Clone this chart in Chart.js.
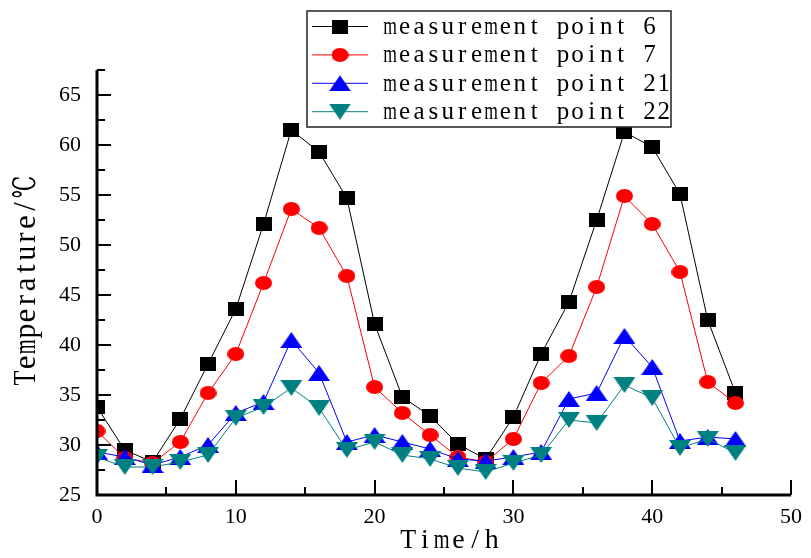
<!DOCTYPE html>
<html lang="en">
<head>
    <meta charset="UTF-8">
    <title>Temperature at measurement points</title>
    <script src="https://cdn.jsdelivr.net/npm/chart.js"></script>
    <style>
        html, body { margin: 0; padding: 0; background: #fff; }
        #wrap { width: 811px; height: 558px; }
    </style>
</head>
<body>
    <div id="wrap"><canvas id="tempChart"></canvas></div>

    <script>
        // values
        const times = [0, 2, 4, 6, 8, 10, 12, 14, 16, 18, 20, 22, 24, 26, 28, 30, 32, 34, 36, 38, 40, 42, 44, 46];
        const point6 = [33.8, 29.5, 28.3, 32.6, 38.1, 43.6, 52.1, 61.5, 59.3, 54.7, 42.1, 34.8, 32.9, 30.1, 28.6, 32.8, 39.1, 44.3, 52.5, 61.3, 59.8, 55.1, 42.5, 35.2];
        const point7 = [31.4, 28.7, 28.2, 30.3, 35.2, 39.1, 46.2, 53.6, 51.7, 46.9, 35.8, 33.2, 31.0, 28.8, 28.3, 30.6, 36.2, 38.9, 45.8, 54.9, 52.1, 47.3, 36.3, 34.2];
        const point21 = [29.3, 28.8, 28.0, 28.8, 30.0, 33.2, 34.3, 40.5, 37.2, 30.3, 31.0, 30.3, 29.6, 28.6, 28.4, 28.8, 29.3, 34.6, 35.2, 40.9, 37.8, 30.4, 30.8, 30.6];
        const point22 = [28.8, 27.8, 27.8, 28.3, 29.0, 32.7, 33.8, 35.7, 33.7, 29.5, 30.3, 29.0, 28.6, 27.7, 27.3, 28.2, 29.0, 32.5, 32.2, 36.0, 34.7, 29.7, 30.6, 29.2];
        const seriesLabels = ['measurement point 6', 'measurement point 7', 'measurement point 21', 'measurement point 22'];
        const xTicks = [0, 10, 20, 30, 40, 50];
        const yTicks = [25, 30, 35, 40, 45, 50, 55, 60, 65];

        const SERIF = '"Liberation Serif", "Times New Roman", "DejaVu Serif", serif';

        // symbols are a bit wider than tall in the original, so build them as small canvases
        function makeMarker(w, h, color, shape) {
            const c = document.createElement('canvas');
            c.width = w; c.height = h;
            const g = c.getContext('2d');
            g.fillStyle = color;
            g.beginPath();
            if (shape === 'square') {
                g.rect(0, 0, w, h);
            } else if (shape === 'circle') {
                g.ellipse(w / 2, h / 2, w / 2, h / 2, 0, 0, Math.PI * 2);
            } else if (shape === 'up') {
                g.moveTo(w / 2, 0); g.lineTo(w, h); g.lineTo(0, h);
            } else {
                g.moveTo(0, 0); g.lineTo(w, 0); g.lineTo(w / 2, h);
            }
            g.closePath();
            g.fill();
            return c;
        }

        const markers = [
            makeMarker(16, 14, '#000000', 'square'),
            makeMarker(17, 14, '#ff0000', 'circle'),
            makeMarker(22, 16, '#0000ff', 'up'),
            makeMarker(22, 16, '#008080', 'down')
        ];
        const colors = ['#000000', '#ff0000', '#0000ff', '#008080'];
        const values = [point6, point7, point21, point22];

        // draw text with a fixed advance per character (the figure uses a monospaced serif);
        // glyphs wider than their cell get squeezed a little
        function drawSpaced(ctx, text, x, y, adv) {
            let pos = x;
            for (const ch of text) {
                const w = ch.charCodeAt(0) > 255 ? adv * 1.5 : adv;
                const gw = ctx.measureText(ch).width;
                const sx = gw > w * 0.95 ? (w * 0.95) / gw : 1;
                ctx.save();
                ctx.translate(pos + w / 2, y);
                ctx.scale(sx, 1);
                ctx.fillText(ch, 0, 0);
                ctx.restore();
                pos += w;
            }
        }

        function spacedWidth(text, adv) {
            let w = 0;
            for (const ch of text) w += ch.charCodeAt(0) > 255 ? adv * 1.5 : adv;
            return w;
        }

        // axis lines and inward tick marks, drawn over the data like in Origin
        const axesPlugin = {
            id: 'axesPlugin',
            afterDatasetsDraw(chart) {
                const ctx = chart.ctx;
                const area = chart.chartArea;
                const xs = chart.scales.x, ys = chart.scales.y;
                ctx.save();
                ctx.strokeStyle = '#000';
                ctx.lineCap = 'butt';

                ctx.lineWidth = 2;
                xTicks.forEach((v, i) => {
                    const px = Math.round(xs.getPixelForValue(v));
                    ctx.beginPath();
                    ctx.moveTo(px, area.bottom);
                    ctx.lineTo(px, area.bottom - 15);
                    ctx.stroke();
                    if (i < xTicks.length - 1) {
                        const mx = Math.round(xs.getPixelForValue((v + xTicks[i + 1]) / 2));
                        ctx.beginPath();
                        ctx.moveTo(mx, area.bottom);
                        ctx.lineTo(mx, area.bottom - 8);
                        ctx.stroke();
                    }
                });
                yTicks.forEach((v, i) => {
                    const py = Math.round(ys.getPixelForValue(v));
                    ctx.beginPath();
                    ctx.moveTo(area.left, py);
                    ctx.lineTo(area.left + 14, py);
                    ctx.stroke();
                    const next = i < yTicks.length - 1 ? yTicks[i + 1] : v + 5;
                    const my = Math.round(ys.getPixelForValue((v + next) / 2));
                    ctx.beginPath();
                    ctx.moveTo(area.left, my);
                    ctx.lineTo(area.left + 8, my);
                    ctx.stroke();
                });

                ctx.lineWidth = 3;
                ctx.beginPath();
                ctx.moveTo(area.left, area.top);
                ctx.lineTo(area.left, area.bottom);
                ctx.lineTo(area.right, area.bottom);
                ctx.stroke();
                ctx.restore();
            },
            afterDraw(chart) {
                const ctx = chart.ctx;
                const area = chart.chartArea;
                ctx.save();
                ctx.fillStyle = '#000';
                ctx.textAlign = 'center';
                ctx.textBaseline = 'middle';

                // x title
                ctx.font = '28px ' + SERIF;
                const xt = 'Time/h';
                const xw = spacedWidth(xt, 16.7);
                drawSpaced(ctx, xt, (area.left + area.right) / 2 + 6 - xw / 2, 541, 16.7);

                // y title
                ctx.translate(27, (area.top + area.bottom) / 2 - 2);
                ctx.rotate(-Math.PI / 2);
                ctx.font = '31px ' + SERIF;
                const yt = 'Temperature/℃';
                const yw = spacedWidth(yt, 15.6);
                drawSpaced(ctx, yt, -yw / 2, 0, 15.6);
                ctx.restore();

                // legend box
                ctx.save();
                ctx.fillStyle = '#fff';
                ctx.fillRect(307, 11, 364, 116);
                ctx.strokeStyle = '#222';
                ctx.lineWidth = 1.5;
                ctx.strokeRect(307, 11, 364, 116);
                chart.data.datasets.forEach((ds, i) => {
                    const y = 26.5 + i * 28.4;
                    ctx.strokeStyle = ds.borderColor;
                    ctx.lineWidth = 1;
                    ctx.beginPath();
                    ctx.moveTo(312, y);
                    ctx.lineTo(368, y);
                    ctx.stroke();
                    const m = ds.pointStyle;
                    ctx.drawImage(m, 340 - m.width / 2, y - m.height / 2);
                    ctx.fillStyle = '#000';
                    ctx.font = '25px ' + SERIF;
                    ctx.textAlign = 'center';
                    ctx.textBaseline = 'middle';
                    drawSpaced(ctx, ds.label, 383, y + 1, 14.4);
                });
                ctx.restore();
            }
        };

        const datasets = seriesLabels.map((label, i) => ({
            label: label,
            data: times.map((t, j) => ({ x: t, y: values[i][j] })),
            borderColor: colors[i],
            backgroundColor: colors[i],
            borderWidth: 1,
            pointStyle: markers[i],
            pointRadius: 8,
            pointHoverRadius: 8,
            tension: 0,
            order: 4 - i
        }));

        const tickFont = { family: SERIF, size: 22 };

        new Chart(document.getElementById('tempChart'), {
            type: 'line',
            data: { datasets: datasets },
            options: {
                responsive: true,
                maintainAspectRatio: false,
                animation: false,
                layout: {
                    autoPadding: false,
                    padding: { left: 0, right: 15, top: 70, bottom: 0 }
                },
                plugins: {
                    legend: { display: false },
                    tooltip: { enabled: false }
                },
                scales: {
                    x: {
                        type: 'linear',
                        min: 0,
                        max: 50,
                        afterFit: s => { s.height = 63; },
                        afterBuildTicks: s => { s.ticks = xTicks.map(v => ({ value: v })); },
                        grid: { display: false, drawTicks: false },
                        border: { display: false },
                        ticks: { font: tickFont, color: '#000', padding: 9, maxRotation: 0 }
                    },
                    y: {
                        type: 'linear',
                        min: 25,
                        max: 67.5,
                        afterFit: s => { s.width = 97; },
                        afterBuildTicks: s => { s.ticks = yTicks.map(v => ({ value: v })); },
                        grid: { display: false, drawTicks: false },
                        border: { display: false },
                        ticks: { font: tickFont, color: '#000', padding: 16 }
                    }
                }
            },
            plugins: [axesPlugin]
        });
    </script>
</body>
</html>
